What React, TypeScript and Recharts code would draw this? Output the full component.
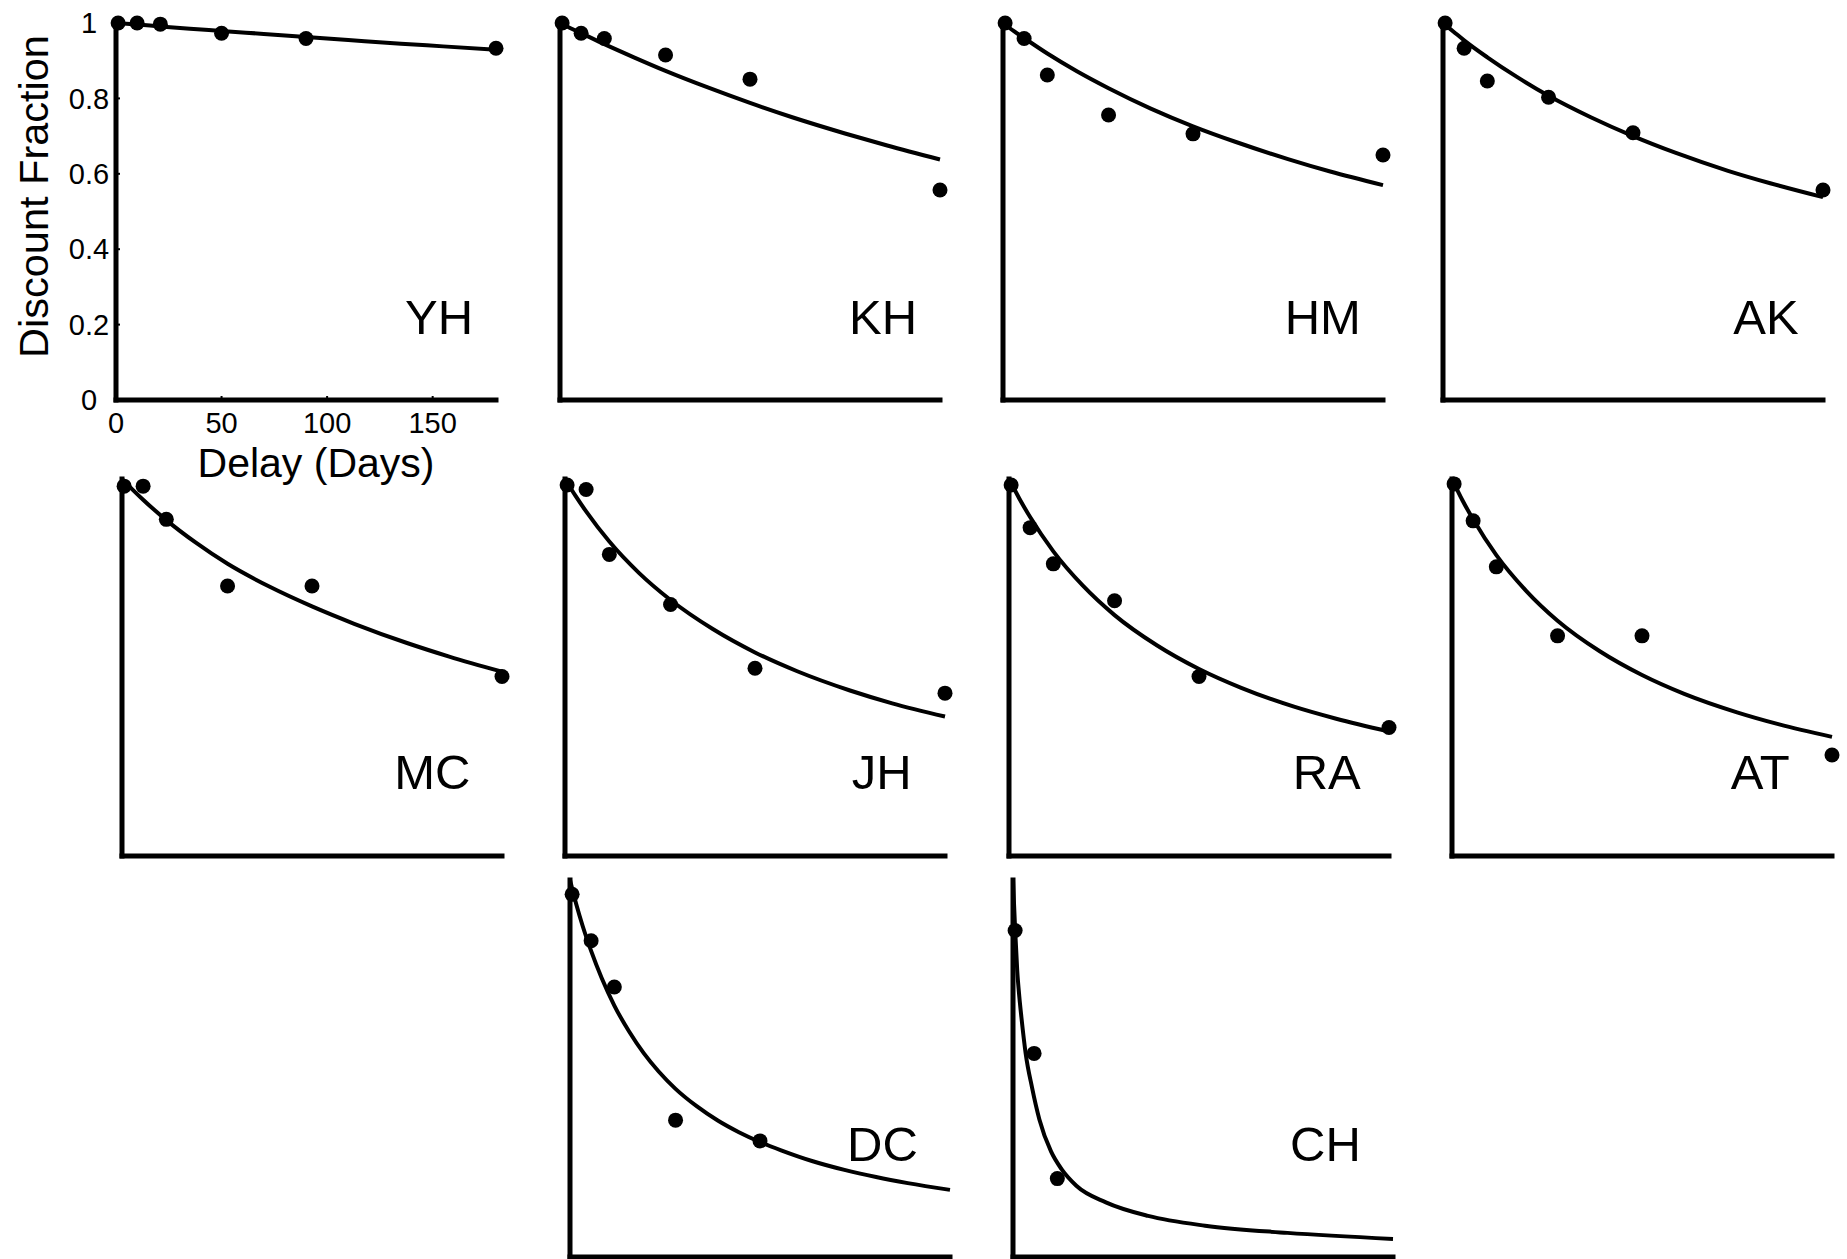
import React from "react";
import {
  ComposedChart,
  Line,
  Scatter,
  XAxis,
  YAxis,
  ReferenceDot,
} from "recharts";

// measured delays (days) and discount fractions per subject
const delays = [1, 10, 21, 50, 90, 180];

const yhPoints = [1.0, 1.0, 0.997, 0.973, 0.959, 0.933];
const khPoints = [1.0, 0.973, 0.959, 0.915, 0.851, 0.557];
const hmPoints = [1.0, 0.959, 0.862, 0.756, 0.706, 0.65];
const akPoints = [1.0, 0.933, 0.846, 0.803, 0.709, 0.557];
const mcPoints = [0.981, 0.981, 0.893, 0.716, 0.716, 0.476];
const jhPoints = [0.984, 0.972, 0.8, 0.667, 0.498, 0.432];
const raPoints = [0.984, 0.871, 0.775, 0.677, 0.476, 0.341];
const atPoints = [0.987, 0.889, 0.767, 0.584, 0.584, 0.268];
const dcPoints = [0.962, 0.839, 0.716, 0.363, 0.308];
const chPoints = [0.866, 0.54, 0.208];

// fitted curves, sampled along the delay axis
const curveDelays = [0, 5, 10, 21, 35, 50, 70, 90, 110, 135, 155, 180];

const yhCurve = [1.0, 0.998, 0.996, 0.991, 0.985, 0.979, 0.971, 0.963, 0.955, 0.945, 0.938, 0.929];
const khCurve = [1.0, 0.986, 0.973, 0.944, 0.909, 0.873, 0.829, 0.788, 0.75, 0.707, 0.675, 0.638];
const hmCurve = [1.0, 0.979, 0.96, 0.919, 0.872, 0.827, 0.773, 0.726, 0.685, 0.639, 0.606, 0.57];
const akCurve = [1.0, 0.977, 0.954, 0.909, 0.857, 0.807, 0.75, 0.7, 0.656, 0.608, 0.575, 0.538];
const mcCurve = [1.0, 0.972, 0.945, 0.891, 0.831, 0.775, 0.714, 0.662, 0.616, 0.565, 0.529, 0.489];
const jhCurve = [1.0, 0.955, 0.914, 0.834, 0.751, 0.679, 0.602, 0.54, 0.49, 0.439, 0.405, 0.37];
const raCurve = [1.0, 0.947, 0.899, 0.808, 0.717, 0.639, 0.559, 0.496, 0.446, 0.396, 0.364, 0.33];
const atCurve = [1.0, 0.943, 0.893, 0.798, 0.704, 0.624, 0.543, 0.48, 0.43, 0.381, 0.349, 0.316];

// DC and CH bend sharply, so their curves are sampled more densely
const dcCurveDelays = [0, 3, 6, 10, 15, 21, 28, 35, 42, 50, 60, 70, 80, 90, 100, 115, 130, 145, 160, 180];
const dcCurve = [1.0, 0.935, 0.878, 0.812, 0.74, 0.667, 0.598, 0.54, 0.492, 0.446, 0.4, 0.362, 0.331, 0.305, 0.283, 0.254, 0.231, 0.212, 0.196, 0.178];

const chCurveDelays = [0, 1, 2, 3, 4, 6, 9, 12.5, 18, 23, 30, 44, 64, 91, 130, 180];
const chCurve = [1.0, 0.87, 0.76, 0.69, 0.635, 0.54, 0.45, 0.365, 0.28, 0.233, 0.189, 0.145, 0.109, 0.083, 0.064, 0.048];

const xTicks = [0, 50, 100, 150];
const yTicks = [0, 0.2, 0.4, 0.6, 0.8, 1];

const FONT = '"Liberation Sans", Arial, Helvetica, sans-serif';

const AXIS_W = 116;
const PLOT_W = 380;
const PLOT_H = 377;
const TOP = 23;
const X_AXIS_H = 100;
const RIGHT = 24;

const toRows = (xs: number[], vs: number[]) =>
  vs.map((v, i) => ({ d: xs[i], v }));

type PanelDef = {
  name: string;
  points: number[];
  curve: number[];
  curveX: number[];
  x: number; // page x of the y axis
  y: number; // page y of the top of the plot
  labelX: number;
  labelY: number;
  labeled?: boolean;
};

const panels: PanelDef[] = [
  { name: "YH", points: yhPoints, curve: yhCurve, curveX: curveDelays, x: 116, y: 23, labelX: 153, labelY: 0.22, labeled: true },
  { name: "KH", points: khPoints, curve: khCurve, curveX: curveDelays, x: 560, y: 23, labelX: 153, labelY: 0.22 },
  { name: "HM", points: hmPoints, curve: hmCurve, curveX: curveDelays, x: 1003, y: 23, labelX: 151.5, labelY: 0.22 },
  { name: "AK", points: akPoints, curve: akCurve, curveX: curveDelays, x: 1443, y: 23, labelX: 153, labelY: 0.22 },
  { name: "MC", points: mcPoints, curve: mcCurve, curveX: curveDelays, x: 122, y: 479, labelX: 147, labelY: 0.224 },
  { name: "JH", points: jhPoints, curve: jhCurve, curveX: curveDelays, x: 565, y: 479, labelX: 150, labelY: 0.224 },
  { name: "RA", points: raPoints, curve: raCurve, curveX: curveDelays, x: 1009, y: 479, labelX: 150.5, labelY: 0.224 },
  { name: "AT", points: atPoints, curve: atCurve, curveX: curveDelays, x: 1452, y: 479, labelX: 146, labelY: 0.224 },
  { name: "DC", points: dcPoints, curve: dcCurve, curveX: dcCurveDelays, x: 570, y: 880, labelX: 148, labelY: 0.3 },
  { name: "CH", points: chPoints, curve: chCurve, curveX: chCurveDelays, x: 1013, y: 880, labelX: 148, labelY: 0.3 },
];

const dotShape = (props: any) => (
  <circle cx={props.cx} cy={props.cy} r={7.5} fill="#000" />
);

function Panel({ p }: { p: PanelDef }) {
  const tickStyle = { fill: "#000", fontSize: 29, fontFamily: FONT };
  const axisLine = { stroke: "#000", strokeWidth: 5, strokeLinecap: "square" as const };
  return (
    <div
      style={{
        position: "absolute",
        left: p.x - AXIS_W,
        top: p.y - TOP,
      }}
    >
      <ComposedChart
        width={AXIS_W + PLOT_W + RIGHT}
        height={TOP + PLOT_H + X_AXIS_H}
        margin={{ top: TOP, right: RIGHT, bottom: 0, left: 0 }}
      >
        <XAxis
          type="number"
          dataKey="d"
          domain={[0, 180]}
          ticks={xTicks}
          interval={0}
          height={X_AXIS_H}
          axisLine={axisLine}
          tickLine={{ stroke: "#000", strokeWidth: 2 }}
          tickSize={-4}
          tickMargin={16}
          tick={p.labeled ? { ...tickStyle, textAnchor: "middle" } : false}
          label={
            p.labeled
              ? {
                  value: "Delay (Days)",
                  position: "insideBottom",
                  offset: 23,
                  dx: 10,
                  fill: "#000",
                  fontSize: 41,
                  fontFamily: FONT,
                }
              : undefined
          }
        />
        <YAxis
          type="number"
          dataKey="v"
          domain={[0, 1]}
          ticks={yTicks}
          interval={0}
          width={AXIS_W}
          axisLine={axisLine}
          tickLine={{ stroke: "#000", strokeWidth: 2 }}
          tickSize={-4}
          tickMargin={31}
          tick={p.labeled ? { ...tickStyle, textAnchor: "middle" } : false}
          label={
            p.labeled
              ? {
                  value: "Discount Fraction",
                  angle: -90,
                  position: "insideLeft",
                  offset: 33,
                  dy: -15,
                  fill: "#000",
                  fontSize: 41.5,
                  fontFamily: FONT,
                  style: { textAnchor: "middle" },
                }
              : undefined
          }
        />
        <Line
          data={toRows(p.curveX, p.curve)}
          dataKey="v"
          type="monotone"
          stroke="#000"
          strokeWidth={4}
          dot={false}
          activeDot={false}
          isAnimationActive={false}
        />
        <Scatter
          data={toRows(delays, p.points)}
          dataKey="v"
          shape={dotShape}
          isAnimationActive={false}
        />
        <ReferenceDot
          x={p.labelX}
          y={p.labelY}
          r={0}
          stroke="none"
          fill="none"
          label={{
            value: p.name,
            position: "center",
            fill: "#000",
            fontSize: 49,
            fontFamily: FONT,
          }}
        />
      </ComposedChart>
    </div>
  );
}

export default function App() {
  return (
    <div
      style={{
        position: "fixed",
        left: 0,
        top: 0,
        width: 1847,
        height: 1259,
        overflow: "hidden",
        background: "#fff",
      }}
    >
      {panels.map((p) => (
        <Panel key={p.name} p={p} />
      ))}
    </div>
  );
}
